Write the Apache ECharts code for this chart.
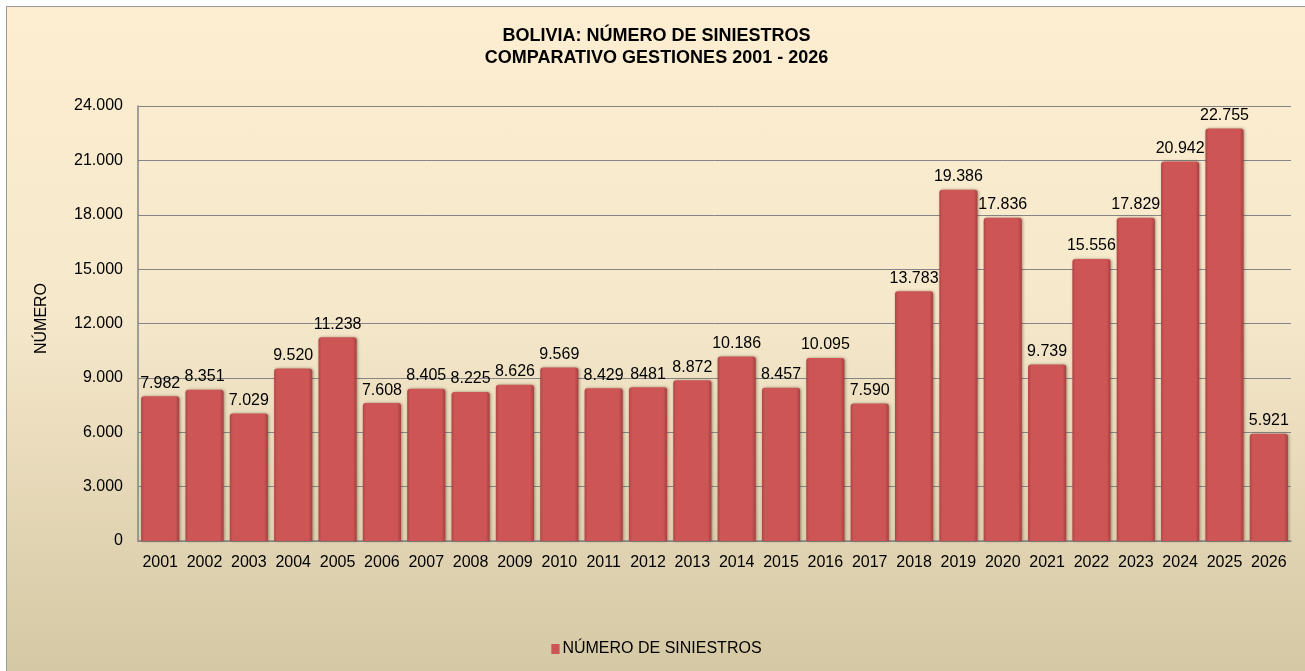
<!DOCTYPE html>
<html>
<head>
<meta charset="utf-8">
<title>Bolivia: número de siniestros</title>
<script src="https://cdn.jsdelivr.net/npm/echarts@6/dist/echarts.min.js"></script>
<style>
  html, body {
    margin: 0;
    padding: 0;
    background: #fff;
  }
  #chart {
    position: absolute;
    left: 6px;
    top: 6px;
    width: 1299px;
    height: 665px;
    border-left: 1px solid #9a9a9a;
    border-top: 1px solid #9a9a9a;
    background: linear-gradient(to bottom, #fdeed1 0%, #f6e8cb 45%, #d5c8a4 100%);
  }
</style>
</head>
<body>
<div id="chart"></div>
<script>
// gestiones (eje X)
const years = ['2001', '2002', '2003', '2004', '2005', '2006', '2007', '2008', '2009', '2010',
  '2011', '2012', '2013', '2014', '2015', '2016', '2017', '2018', '2019', '2020',
  '2021', '2022', '2023', '2024', '2025', '2026'];

// número de siniestros por gestión
const siniestros = [7982, 8351, 7029, 9520, 11238, 7608, 8405, 8225, 8626, 9569,
  8429, 8481, 8872, 10186, 8457, 10095, 7590, 13783, 19386, 17836,
  9739, 15556, 17829, 20942, 22755, 5921];

// etiquetas tal como salen en el gráfico (2012 va sin punto)
const valueLabels = ['7.982', '8.351', '7.029', '9.520', '11.238', '7.608', '8.405', '8.225', '8.626', '9.569',
  '8.429', '8481', '8.872', '10.186', '8.457', '10.095', '7.590', '13.783', '19.386', '17.836',
  '9.739', '15.556', '17.829', '20.942', '22.755', '5.921'];

const yMax = 24000;
const yStep = 3000;

// separador de miles con punto
const fmtMiles = val => String(val).replace(/\B(?=(\d{3})+(?!\d))/g, '.');

var myChart = echarts.init(document.getElementById('chart'));

const barColor = new echarts.graphic.LinearGradient(0, 0, 1, 0, [
  { offset: 0, color: '#b04646' },
  { offset: 0.08, color: '#cd5555' },
  { offset: 0.9, color: '#cd5555' },
  { offset: 1, color: '#a54040' }
]);

const options = {
  textStyle: {
    fontFamily: 'Liberation Sans, Arial, sans-serif'
  },
  title: {
    text: 'BOLIVIA: NÚMERO DE SINIESTROS\nCOMPARATIVO GESTIONES 2001 - 2026',
    left: 'center',
    top: 13,
    textStyle: {
      fontSize: 18,
      fontWeight: 'bold',
      color: '#000',
      lineHeight: 22
    }
  },
  legend: {
    bottom: 10,
    left: 'center',
    itemWidth: 8,
    itemHeight: 10,
    itemGap: 4,
    icon: 'rect',
    textStyle: {
      fontSize: 16,
      color: '#000',
      padding: [0, 0, 0, -2]
    },
    data: ['NÚMERO DE SINIESTROS']
  },
  grid: {
    left: 131,
    right: 15,
    top: 99,
    bottom: 131
  },
  xAxis: {
    type: 'category',
    data: years,
    axisLine: { lineStyle: { color: '#858585', width: 1.5 } },
    axisTick: { show: false },
    axisLabel: {
      color: '#000',
      fontSize: 16,
      margin: 14,
      interval: 0
    }
  },
  yAxis: {
    type: 'value',
    min: 0,
    max: yMax,
    interval: yStep,
    name: 'NÚMERO',
    nameLocation: 'middle',
    nameGap: 88,
    nameTextStyle: {
      fontSize: 16,
      color: '#000',
      padding: [0, 0, 0, 10]
    },
    axisLine: { show: true, lineStyle: { color: '#858585', width: 1.5 } },
    axisTick: { show: false },
    axisLabel: {
      color: '#000',
      fontSize: 16,
      margin: 15,
      formatter: fmtMiles
    },
    splitLine: { lineStyle: { color: '#858585', width: 1 } }
  },
  series: [
    {
      name: 'NÚMERO DE SINIESTROS',
      type: 'bar',
      data: siniestros,
      barCategoryGap: '14%',
      itemStyle: {
        color: barColor,
        borderRadius: [3, 3, 0, 0],
        shadowColor: 'rgba(60, 40, 20, 0.45)',
        shadowBlur: 3,
        shadowOffsetX: 1,
        shadowOffsetY: 0
      },
      label: {
        show: true,
        position: 'top',
        distance: 5,
        fontSize: 16,
        color: '#000',
        formatter: p => valueLabels[p.dataIndex]
      }
    }
  ]
};

myChart.setOption(options);
window.addEventListener('resize', () => myChart.resize());
</script>
</body>
</html>
